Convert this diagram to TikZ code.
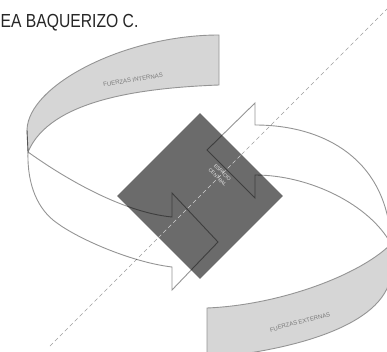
\documentclass[tikz,border=0pt]{standalone}
\usepackage{fontspec}
\setmainfont{Liberation Sans}
\usetikzlibrary{shapes.geometric}

\definecolor{bandfill}{gray}{0.84}
\definecolor{bandline}{gray}{0.58}
\definecolor{corefill}{gray}{0.42}
\definecolor{axisgray}{gray}{0.62}
\definecolor{axislight}{gray}{0.82}

\begin{document}
\begin{tikzpicture}[x=1pt,y=-1pt,
    band/.style={fill=bandfill,draw=bandline,line width=0.9pt},
    ribbon/.style={draw=bandline,line width=0.9pt,line join=miter,blend mode=multiply},
    axis/.style={draw=axisgray,dash pattern=on 4pt off 3pt,line width=0.7pt},
    bandlabel/.style={text=gray!95!black,font=\fontsize{6}{7}\selectfont,inner sep=0pt}]

  \useasboundingbox (0,0) rectangle (387,352);
  \clip (0,0) rectangle (387,352);

  % where the back of each ring meets its front
  \coordinate (jl) at (28,152);
  \coordinate (jr) at (391,244);

  % back of the rings
  \path[band] (219,35) .. controls (125,35) and (28,85) .. (27,130) -- (jl)
    .. controls (50,100) and (140,88) .. (219,85) -- cycle;
  \path[band] (207,308) .. controls (280,305) and (360,275) .. (jr) -- (390,280)
    .. controls (378,330) and (280,352) .. (207,358) -- cycle;

  % central space
  \node[diamond,aspect=1,minimum size=166pt,inner sep=0pt,fill=corefill] (core) at (200,196) {};

  % the axis, lighter where it crosses the centre
  \coordinate (axlo) at (50,346);
  \coordinate (axhi) at (388,8);
  \draw[axis] (axlo) -- (core.south west);
  \draw[axis,draw=axislight] (core.south west) -- (core.north east);
  \draw[axis] (core.north east) -- (axhi);

  % front of the rings, each ending in an arrow
  \draw[ribbon] (jl) .. controls (60,175) and (120,212) .. (172,217) -- (172,193)
    -- (218,242) -- (172,290) -- (172,267)
    .. controls (130,262) and (77,238) .. (57,223)
    .. controls (38,210) and (27,185) .. (jl);
  \draw[ribbon] (27,130) -- (jl);
  \draw[ribbon] (jr) .. controls (370,205) and (310,175) .. (255,175) -- (255,198)
    -- (207,150) -- (255,103) -- (255,125)
    .. controls (325,125) and (388,160) .. (jr);

  % labels
  \node[bandlabel,rotate=9] (internas) at (133,80) {FUERZAS INTERNAS};
  \node[bandlabel,rotate=15] (externas) at (300,322) {FUERZAS EXTERNAS};
  \node[bandlabel,text=white!90!black,font=\fontsize{5}{7}\selectfont,
    rotate=-45,align=center] (espacio) at (220,175) {ESPACIO\\CENTRAL};
  \node[anchor=base west,inner sep=0pt,text=black!85,
    font=\fontsize{18.9}{20}\selectfont] (autor) at (0.5,28)
    {\scalebox{0.83}[1]{EA BAQUERIZO C.}};

\end{tikzpicture}
\end{document}
